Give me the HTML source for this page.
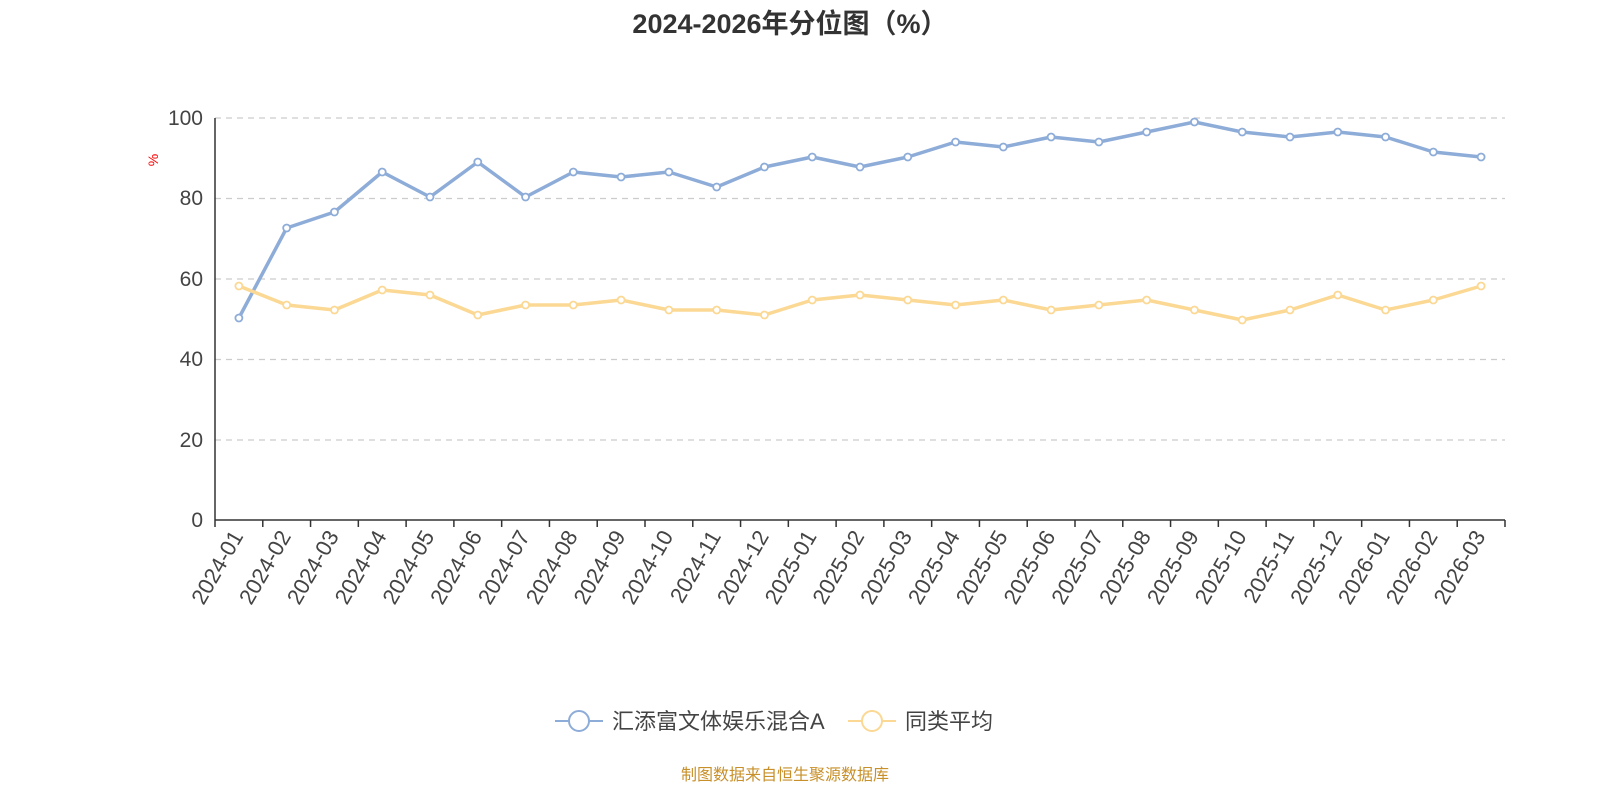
<!DOCTYPE html>
<html><head><meta charset="utf-8"><style>
html,body{margin:0;padding:0;background:#fff;}
svg{display:block;font-family:"Liberation Sans","Noto Sans CJK SC",sans-serif;}
</style></head><body>
<svg width="1600" height="800" viewBox="0 0 1600 800" xmlns="http://www.w3.org/2000/svg">
<text x="790" y="33" text-anchor="middle" font-size="27" font-weight="bold" fill="#333">2024-2026年分位图（%）</text>
<g stroke="#ccc" stroke-dasharray="6,5" stroke-width="1.2">
<line x1="215" y1="118" x2="1505" y2="118"/>
<line x1="215" y1="198.5" x2="1505" y2="198.5"/>
<line x1="215" y1="279" x2="1505" y2="279"/>
<line x1="215" y1="359.5" x2="1505" y2="359.5"/>
<line x1="215" y1="440" x2="1505" y2="440"/>
</g>
<g font-size="21" fill="#444" text-anchor="end">
<text x="203" y="125">100</text><text x="203" y="205">80</text><text x="203" y="286">60</text>
<text x="203" y="366">40</text><text x="203" y="447">20</text><text x="203" y="527">0</text>
</g>
<text x="158" y="160" font-size="14" fill="red" transform="rotate(-90 158 160)" text-anchor="middle">%</text>
<line x1="215" y1="118" x2="215" y2="520" stroke="#333" stroke-width="1.5"/>
<line x1="215" y1="520" x2="1505" y2="520" stroke="#333" stroke-width="1.5"/>
<g id="ticks" stroke="#333" stroke-width="1.5"></g>
<g id="labels" font-size="22" fill="#444"></g>
<polyline id="b" fill="none" stroke="#8eacd8" stroke-width="3.5" stroke-linejoin="round"/>
<polyline id="y" fill="none" stroke="#fbd893" stroke-width="3.5" stroke-linejoin="round"/>
<g id="pts"></g>
<g>
<line x1="555" y1="721" x2="603" y2="721" stroke="#8eacd8" stroke-width="2"/>
<circle cx="579" cy="721" r="10" fill="#fff" stroke="#8eacd8" stroke-width="2"/>
<text x="612" y="729" font-size="22" fill="#444">汇添富文体娱乐混合A</text>
<line x1="848" y1="721" x2="896" y2="721" stroke="#fbd893" stroke-width="2"/>
<circle cx="872" cy="721" r="10" fill="#fff" stroke="#fbd893" stroke-width="2"/>
<text x="905" y="729" font-size="22" fill="#444">同类平均</text>
</g>
<text x="785" y="780" text-anchor="middle" font-size="16" fill="#c8902a">制图数据来自恒生聚源数据库</text>
</svg>
<script>
var ns="http://www.w3.org/2000/svg";
var B=[318,228,212,172,197,162,197,172,177,172,187,167,157,167,157,142,147,137,142,132,122,132,137,132,137,152,157];
var Y=[286,305,310,290,295,315,305,305,300,310,310,315,300,295,300,305,300,310,305,300,310,320,310,295,310,300,286];
var w=1290/27,bp=[],yp=[];
var tk=document.getElementById('ticks'),lb=document.getElementById('labels'),pts=document.getElementById('pts');
for(var i=0;i<=27;i++){var l=document.createElementNS(ns,'line');var x=215+i*w;l.setAttribute('x1',x);l.setAttribute('x2',x);l.setAttribute('y1',520);l.setAttribute('y2',527);tk.appendChild(l);}
for(var i=0;i<27;i++){
 var x=215+(i+0.5)*w;bp.push(x+','+B[i]);yp.push(x+','+Y[i]);
 var yr=2024+Math.floor(i/12),m=i%12+1;
 var t=document.createElementNS(ns,'text');t.setAttribute('x',x+5);t.setAttribute('y',536);t.setAttribute('text-anchor','end');
 t.setAttribute('transform','rotate(-60 '+(x+5)+' 536)');t.textContent=yr+'-'+(m<10?'0'+m:m);lb.appendChild(t);
}
document.getElementById('b').setAttribute('points',bp.join(' '));
document.getElementById('y').setAttribute('points',yp.join(' '));
function c(p,col){p.forEach(function(s){var a=s.split(',');var e=document.createElementNS(ns,'circle');e.setAttribute('cx',a[0]);e.setAttribute('cy',a[1]);e.setAttribute('r',3.5);e.setAttribute('fill','#fff');e.setAttribute('stroke',col);e.setAttribute('stroke-width',1.8);pts.appendChild(e);});}
c(yp,'#fbd893');c(bp,'#8eacd8');
</script>
</body></html>
